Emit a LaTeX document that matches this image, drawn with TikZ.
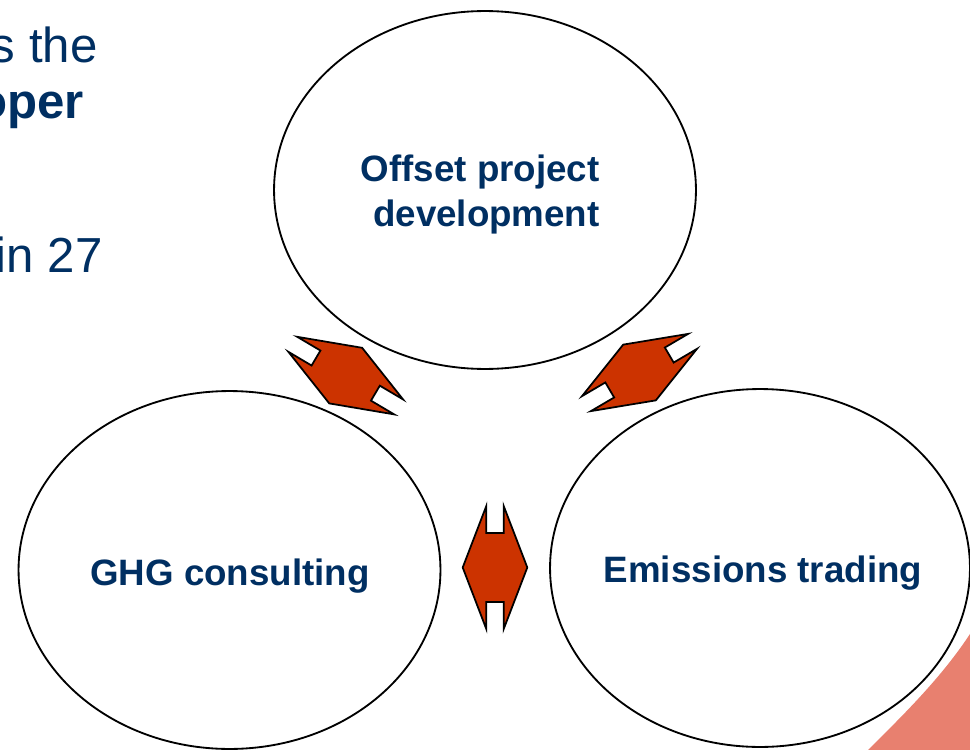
\documentclass[tikz,border=0pt]{standalone}
\usepackage{fontspec}
\setmainfont{Liberation Sans}
\usetikzlibrary{
    shapes.geometric,       % Ellipse nodes.
    positioning
}
\definecolor{navy}{HTML}{002F62}
\definecolor{rust}{HTML}{CC3300}
\definecolor{salmon}{HTML}{E8806F}

\tikzset{
    bubble/.style={ellipse, draw=black, fill=white, line width=1.05pt,
        minimum width=8.44cm, minimum height=7.16cm, inner sep=0pt},
    bubtext/.style={text=navy, inner sep=0pt,
        font=\fontsize{20.9}{25.6}\selectfont\bfseries},
    sidetext/.style={text=navy, inner sep=0pt,
        font=\fontsize{28}{33}\selectfont},
    twoway/.pic={
        \draw[fill=rust, line width=1pt, line join=miter]
            (-61.5,8.7) -- (-34.5,8.7) -- (-34.5,-8.7) -- (-61.5,-8.7)
            -- (0,-32.3) -- (61.5,-8.7) -- (34.5,-8.7) -- (34.5,8.7)
            -- (61.5,8.7) -- (0,32.3) -- cycle;
    }
}

\begin{document}
\begin{tikzpicture}[x=0.02cm, y=-0.02cm]
                \useasboundingbox (0,0) rectangle (970,750);
                % corner of the slide background
                \fill[salmon] (868,750) .. controls (900,718) and (945,675)
                    .. (975,626) -- (975,755) -- (868,755) -- cycle;
                % text cut off at the slide edge
                \node[sidetext, anchor=base east] (sthe) at (98,63) {s the};
                \node[sidetext, anchor=base east, font=\fontsize{28}{33}\selectfont\bfseries]
                    (oper) at (84,118) {oper};
                \node[sidetext, anchor=base east] (inxx) at (103,272) {in 27};
                % the three circles
                \node[bubble] (offset) at (485,190) {};
                \node[bubble] (ghg) at (229.5,570) {};
                \node[bubble, minimum width=8.4cm] (trading) at (760,568) {};
                \node[bubtext, anchor=east, align=right] (offsettext)
                    at (600,194.6) {Offset project\\development};
                \node[bubtext, anchor=base] (ghgtext) at (230,585) {GHG consulting};
                \node[bubtext, anchor=base] (tradingtext) at (763,582) {Emissions trading};
                % two-way arrows
                \coordinate (og) at (345.7,375.6);
                \coordinate (ot) at (639.5,372.5);
                \coordinate (gt) at (495,567.5);
                \pic[rotate=-30.6] at (og) {twoway};
                \pic[rotate=30.4] at (ot) {twoway};
                \pic[rotate=90] at (gt) {twoway};
\end{tikzpicture}
\end{document}
